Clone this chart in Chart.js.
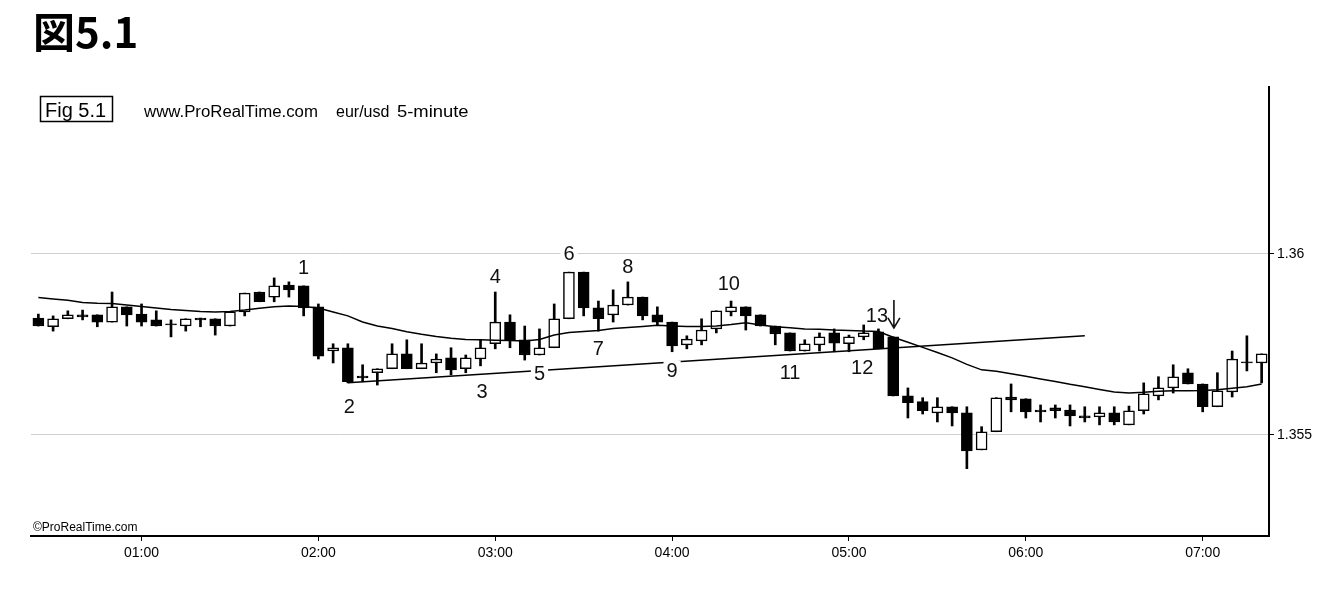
<!DOCTYPE html>
<html>
<head>
<meta charset="utf-8">
<script src="https://cdn.jsdelivr.net/npm/chart.js@4.4.1/dist/chart.umd.min.js"></script>
<style>
  html, body { margin: 0; padding: 0; background: #fff; }
  #wrap { position: relative; width: 1331px; height: 592px; }
</style>
</head>
<body>
<div id="wrap"><canvas id="fig" width="1331" height="592"></canvas></div>
<script>
// 5-minute bars, eur/usd
const times = [
  '00:25','00:30','00:35','00:40','00:45','00:50','00:55',
  '01:00','01:05','01:10','01:15','01:20','01:25','01:30','01:35','01:40','01:45','01:50','01:55',
  '02:00','02:05','02:10','02:15','02:20','02:25','02:30','02:35','02:40','02:45','02:50','02:55',
  '03:00','03:05','03:10','03:15','03:20','03:25','03:30','03:35','03:40','03:45','03:50','03:55',
  '04:00','04:05','04:10','04:15','04:20','04:25','04:30','04:35','04:40','04:45','04:50','04:55',
  '05:00','05:05','05:10','05:15','05:20','05:25','05:30','05:35','05:40','05:45','05:50','05:55',
  '06:00','06:05','06:10','06:15','06:20','06:25','06:30','06:35','06:40','06:45','06:50','06:55',
  '07:00','07:05','07:10','07:15','07:20'
];

const opens = [
  1.35823, 1.35799, 1.35821, 1.35832, 1.35832, 1.35812, 1.35854, 1.35834, 1.35818, 1.35807,
  1.35801, 1.35823, 1.35821, 1.35801, 1.35840, 1.35895, 1.35881, 1.35914, 1.35912, 1.35854,
  1.35732, 1.35741, 1.35663, 1.35672, 1.35683, 1.35724, 1.35683, 1.35699, 1.35713, 1.35683,
  1.35710, 1.35752, 1.35812, 1.35763, 1.35721, 1.35741, 1.35821, 1.35950, 1.35851, 1.35832,
  1.35859, 1.35881, 1.35832, 1.35812, 1.35749, 1.35760, 1.35793, 1.35840, 1.35854, 1.35832,
  1.35801, 1.35782, 1.35732, 1.35749, 1.35782, 1.35752, 1.35771, 1.35785, 1.35771, 1.35608,
  1.35592, 1.35561, 1.35578, 1.35561, 1.35459, 1.35509, 1.35605, 1.35600, 1.35569, 1.35575,
  1.35569, 1.35553, 1.35550, 1.35561, 1.35528, 1.35567, 1.35608, 1.35630, 1.35672, 1.35641,
  1.35578, 1.35619, 1.35702, 1.35699
];
const highs = [
  1.35834, 1.35829, 1.35843, 1.35845, 1.35832, 1.35895, 1.35854, 1.35862, 1.35843, 1.35818,
  1.35821, 1.35823, 1.35821, 1.35840, 1.35892, 1.35895, 1.35934, 1.35923, 1.35912, 1.35862,
  1.35752, 1.35752, 1.35694, 1.35683, 1.35752, 1.35763, 1.35752, 1.35724, 1.35741, 1.35721,
  1.35763, 1.35895, 1.35832, 1.35801, 1.35793, 1.35862, 1.35950, 1.35950, 1.35870, 1.35901,
  1.35923, 1.35881, 1.35854, 1.35812, 1.35774, 1.35821, 1.35843, 1.35870, 1.35854, 1.35832,
  1.35801, 1.35782, 1.35763, 1.35782, 1.35793, 1.35776, 1.35804, 1.35793, 1.35771, 1.35630,
  1.35603, 1.35603, 1.35578, 1.35578, 1.35523, 1.35603, 1.35641, 1.35600, 1.35583, 1.35583,
  1.35583, 1.35578, 1.35578, 1.35578, 1.35580, 1.35644, 1.35661, 1.35694, 1.35683, 1.35641,
  1.35672, 1.35732, 1.35774, 1.35724
];
const lows = [
  1.35801, 1.35787, 1.35821, 1.35818, 1.35799, 1.35812, 1.35801, 1.35801, 1.35801, 1.35771,
  1.35787, 1.35799, 1.35776, 1.35801, 1.35829, 1.35868, 1.35868, 1.35881, 1.35829, 1.35710,
  1.35699, 1.35644, 1.35647, 1.35638, 1.35683, 1.35683, 1.35683, 1.35672, 1.35666, 1.35672,
  1.35691, 1.35738, 1.35741, 1.35707, 1.35721, 1.35741, 1.35821, 1.35829, 1.35787, 1.35812,
  1.35859, 1.35818, 1.35804, 1.35730, 1.35738, 1.35749, 1.35782, 1.35829, 1.35790, 1.35801,
  1.35749, 1.35732, 1.35732, 1.35732, 1.35730, 1.35730, 1.35763, 1.35738, 1.35608, 1.35547,
  1.35558, 1.35536, 1.35525, 1.35407, 1.35459, 1.35509, 1.35564, 1.35547, 1.35536, 1.35547,
  1.35525, 1.35536, 1.35528, 1.35528, 1.35528, 1.35558, 1.35597, 1.35616, 1.35641, 1.35564,
  1.35578, 1.35605, 1.35677, 1.35644
];
const closes = [
  1.35801, 1.35821, 1.35832, 1.35826, 1.35812, 1.35854, 1.35832, 1.35812, 1.35801, 1.35804,
  1.35821, 1.35818, 1.35801, 1.35840, 1.35892, 1.35868, 1.35912, 1.35901, 1.35851, 1.35718,
  1.35741, 1.35647, 1.35658, 1.35683, 1.35724, 1.35683, 1.35699, 1.35710, 1.35680, 1.35713,
  1.35741, 1.35812, 1.35763, 1.35721, 1.35741, 1.35821, 1.35950, 1.35851, 1.35821, 1.35859,
  1.35881, 1.35829, 1.35812, 1.35746, 1.35765, 1.35790, 1.35843, 1.35854, 1.35829, 1.35801,
  1.35779, 1.35732, 1.35752, 1.35771, 1.35754, 1.35771, 1.35782, 1.35738, 1.35608, 1.35589,
  1.35567, 1.35578, 1.35561, 1.35456, 1.35509, 1.35603, 1.35597, 1.35564, 1.35564, 1.35567,
  1.35553, 1.35547, 1.35561, 1.35536, 1.35567, 1.35614, 1.35630, 1.35661, 1.35641, 1.35578,
  1.35622, 1.35710, 1.35699, 1.35724
];

// moving average
const ma = [
  1.35880, 1.35876, 1.35872, 1.35866, 1.35864, 1.35863, 1.35859, 1.35855, 1.35851, 1.35847,
  1.35844, 1.35841, 1.35840, 1.35841, 1.35845, 1.35850, 1.35854, 1.35856, 1.35855, 1.35851,
  1.35840, 1.35829, 1.35812, 1.35801, 1.35794, 1.35785, 1.35778, 1.35772, 1.35767, 1.35764,
  1.35763, 1.35762, 1.35761, 1.35760, 1.35764, 1.35776, 1.35783, 1.35786, 1.35789, 1.35794,
  1.35797, 1.35800, 1.35803, 1.35801, 1.35800, 1.35800, 1.35801, 1.35805, 1.35810, 1.35804,
  1.35799, 1.35796, 1.35793, 1.35792, 1.35790, 1.35789, 1.35787, 1.35786, 1.35770, 1.35756,
  1.35742, 1.35728, 1.35713, 1.35695, 1.35680, 1.35676, 1.35669, 1.35662, 1.35655, 1.35648,
  1.35640, 1.35633, 1.35626, 1.35619, 1.35616, 1.35618, 1.35621, 1.35622, 1.35622, 1.35623,
  1.35625, 1.35629, 1.35633, 1.35641
];

// hand-drawn trend line
const trendAt = ['02:10', '06:20'];
const trendVals = [1.35644, 1.35774];

const yTicks = [1.355, 1.36];

// numbered notes: text, bar index, baseline price
const notes  = ['1', '2', '3', '4', '5', '6', '7', '8', '9', '10', '11', '12', '13'];
const noteAt = [18, 21.1, 30.1, 31, 34, 36, 38, 40, 43, 46.85, 51, 55.9, 56.9];
const noteY  = [1.35945, 1.35561, 1.35603, 1.35920, 1.35652, 1.35983, 1.35721, 1.35948,
                1.35661, 1.35901, 1.35655, 1.35669, 1.35812];
const arrowAt = 58.05;
const arrowY = [1.35873, 1.35796];

const FONT = '"Liberation Sans", Arial, sans-serif';

const up = closes.map((c, i) => c > opens[i]);
const bodies = opens.map((o, i) => [Math.min(o, closes[i]), Math.max(o, closes[i])]);
const wicks = lows.map((l, i) => [l, highs[i]]);

// draws text stretched horizontally, as in the scanned header
function wideText(ctx, text, x, y, sx) {
  ctx.save();
  ctx.translate(x, y);
  ctx.scale(sx, 1);
  ctx.fillText(text, 0, 0);
  ctx.restore();
}

const textPlugin = {
  id: 'textPlugin',
  afterDatasetsDraw(chart) {
    const { ctx, scales: { x, y } } = chart;
    ctx.save();
    ctx.font = '20px ' + FONT;
    ctx.textAlign = 'center';
    ctx.textBaseline = 'alphabetic';
    notes.forEach((t, i) => {
      const px = x.getPixelForValue(noteAt[i]);
      const py = y.getPixelForValue(noteY[i]);
      const w = ctx.measureText(t).width;
      ctx.fillStyle = '#fff';
      ctx.fillRect(px - w / 2 - 3, py - 16, w + 6, 17);
      ctx.fillStyle = '#111';
      ctx.fillText(t, px, py);
    });
    // arrow at 13
    const ax = x.getPixelForValue(arrowAt);
    const a0 = y.getPixelForValue(arrowY[0]);
    const a1 = y.getPixelForValue(arrowY[1]);
    ctx.strokeStyle = '#111';
    ctx.lineWidth = 1.6;
    ctx.beginPath();
    ctx.moveTo(ax, a0);
    ctx.lineTo(ax, a1);
    ctx.moveTo(ax - 6, a1 - 10);
    ctx.lineTo(ax, a1);
    ctx.lineTo(ax + 6, a1 - 10);
    ctx.stroke();
    ctx.restore();
  },
  afterDraw(chart) {
    const ctx = chart.ctx;
    ctx.save();
    ctx.fillStyle = '#000';
    ctx.textAlign = 'left';
    ctx.textBaseline = 'alphabetic';
    ctx.font = 'bold 42px "Noto Sans CJK JP", sans-serif';
    ctx.fillText('図5.1', 33, 48);

    ctx.strokeStyle = '#000';
    ctx.lineWidth = 1.5;
    ctx.strokeRect(40.5, 96.5, 72, 25);
    ctx.font = '20px ' + FONT;
    ctx.fillText('Fig 5.1', 45, 117);

    ctx.font = '16px ' + FONT;
    wideText(ctx, 'www.ProRealTime.com', 144, 117, 1.05);
    ctx.save();
    ctx.beginPath();
    ctx.rect(330, 95, 146, 30);
    ctx.clip();
    wideText(ctx, 'eur/usd', 336, 117, 1.0);
    wideText(ctx, '5-minute', 397, 117, 1.15);
    ctx.restore();

    ctx.font = '12px ' + FONT;
    ctx.fillText('\u00A9ProRealTime.com', 33, 531);
    ctx.restore();
  }
};

const ctx = document.getElementById('fig').getContext('2d');
const chart = new Chart(ctx, {
  type: 'bar',
  data: {
    labels: times,
    datasets: [
      {
        type: 'line',
        data: ma,
        borderColor: '#000',
        borderWidth: 1.5,
        pointRadius: 0,
        tension: 0,
        order: 0
      },
      {
        type: 'line',
        data: trendAt.map((t, i) => ({ x: t, y: trendVals[i] })),
        borderColor: '#000',
        borderWidth: 1.5,
        pointRadius: 0,
        order: 0
      },
      {
        data: bodies,
        backgroundColor: up.map(u => u ? '#fff' : '#000'),
        borderColor: '#000',
        borderWidth: 1.5,
        borderSkipped: false,
        barThickness: 11,
        grouped: false,
        order: 1
      },
      {
        data: wicks,
        backgroundColor: '#000',
        borderWidth: 0,
        barThickness: 2,
        grouped: false,
        order: 2
      }
    ]
  },
  options: {
    responsive: false,
    animation: false,
    layout: { padding: { left: 31, top: 87, right: 0, bottom: 0 } },
    plugins: {
      legend: { display: false },
      tooltip: { enabled: false }
    },
    scales: {
      x: {
        type: 'category',
        offset: true,
        afterBuildTicks: s => { s.ticks = s.ticks.filter(t => times[t.value].endsWith(':00')); },
        afterFit: s => { s.height = 56; },
        ticks: { autoSkip: false, maxRotation: 0, padding: 4, color: '#000', font: { family: FONT, size: 14 } },
        grid: { drawOnChartArea: false, offset: false, tickLength: 5, color: '#000', tickColor: '#000' },
        border: { display: true, color: '#000', width: 2 }
      },
      y: {
        type: 'linear',
        position: 'right',
        min: 1.35221,
        max: 1.364613,
        afterBuildTicks: s => { s.ticks = yTicks.map(v => ({ value: v })); },
        afterFit: s => { s.width = 62; },
        ticks: { padding: 3, color: '#000', font: { family: FONT, size: 14 }, callback: v => String(v) },
        grid: { color: '#cfcfcf', lineWidth: 1, tickColor: '#000', tickLength: 5 },
        border: { display: true, color: '#000', width: 2 }
      }
    }
  },
  plugins: [textPlugin]
});
</script>
</body>
</html>
